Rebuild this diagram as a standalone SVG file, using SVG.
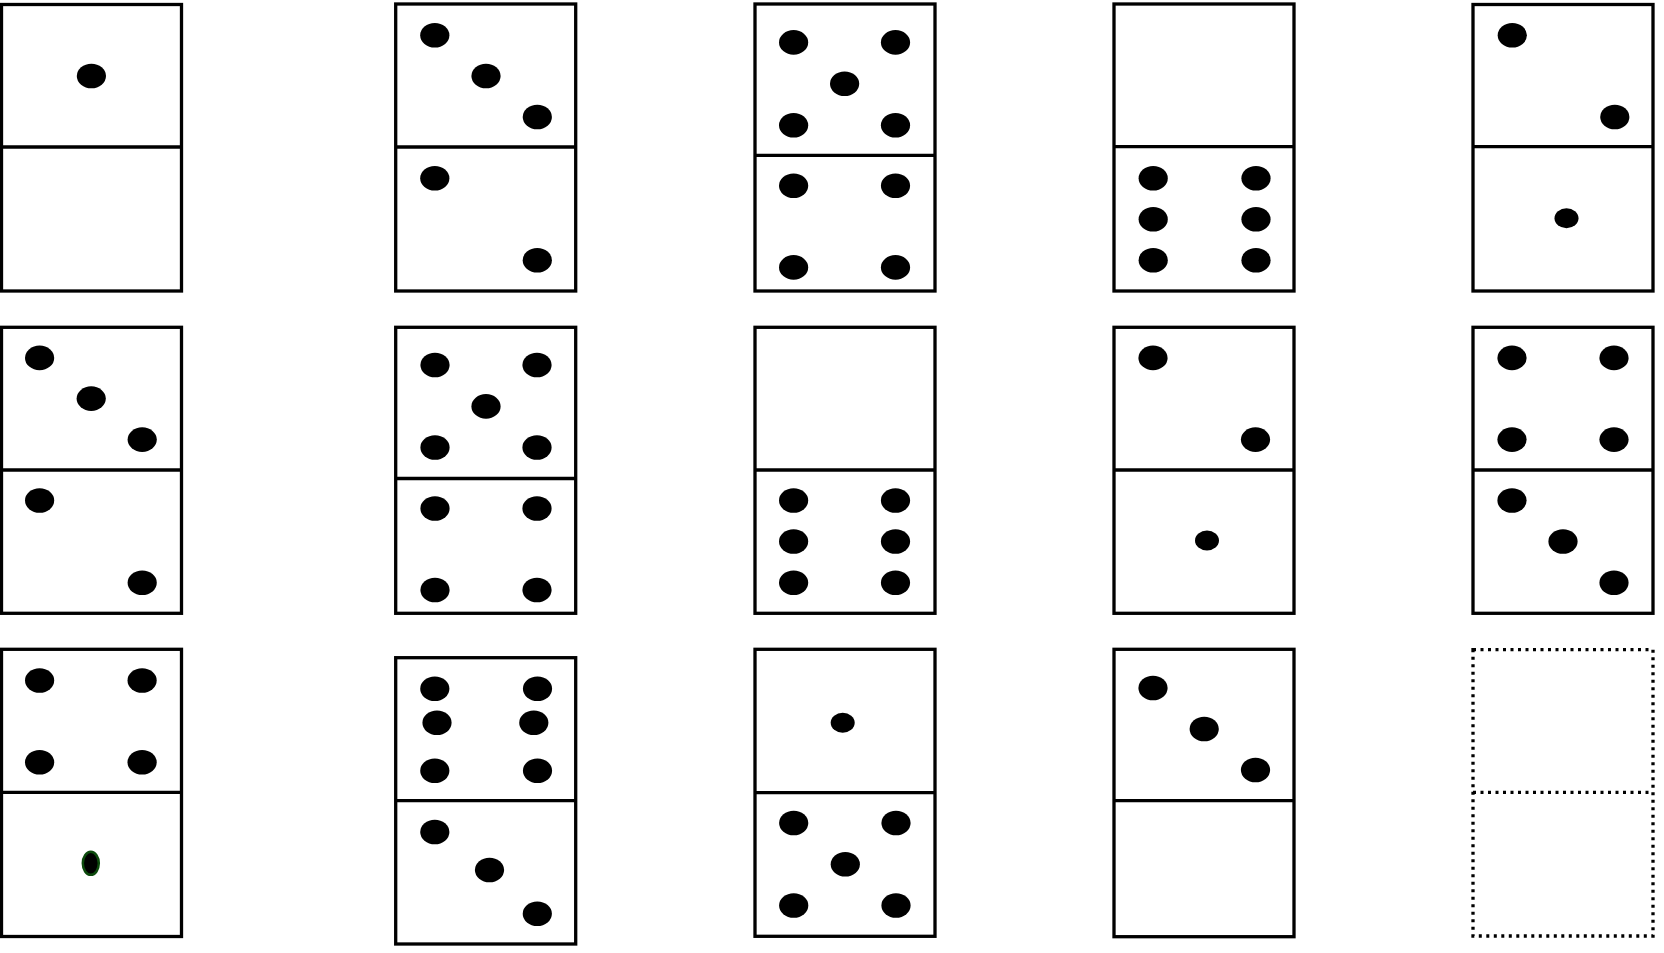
<svg xmlns="http://www.w3.org/2000/svg" width="1664" height="953" viewBox="0 0 1664 953">
<style>
.tile{fill:#fff;stroke:#000;stroke-width:3.3}
.div{stroke:#000;stroke-width:3.3}
.pip{fill:#000}
.dotted{stroke-dasharray:3 4.5}
.green{fill:#000;stroke:#0d4a0d;stroke-width:2.5}
</style>
<rect x="0" y="0" width="1664" height="953" fill="#fff"/>
<g id="domino-r1c1">
<rect class="tile" x="1.5" y="4.5" width="180" height="286.5"/>
<line class="div" x1="1.5" y1="147" x2="181.5" y2="147"/>
<ellipse class="pip" cx="91.4" cy="76" rx="14.6" ry="12.3"/>
</g>
<g id="domino-r1c2">
<rect class="tile" x="395.7" y="4" width="180" height="287"/>
<line class="div" x1="395.7" y1="147" x2="575.7" y2="147"/>
<ellipse class="pip" cx="434.8" cy="35.3" rx="14.6" ry="12.3"/>
<ellipse class="pip" cx="486" cy="76" rx="14.6" ry="12.3"/>
<ellipse class="pip" cx="537.3" cy="117" rx="14.6" ry="12.3"/>
<ellipse class="pip" cx="434.8" cy="178.3" rx="14.6" ry="12.3"/>
<ellipse class="pip" cx="537.3" cy="260.3" rx="14.6" ry="12.3"/>
</g>
<g id="domino-r1c3">
<rect class="tile" x="755" y="4" width="180" height="287"/>
<line class="div" x1="755" y1="155.3" x2="935" y2="155.3"/>
<ellipse class="pip" cx="793.6" cy="42.4" rx="14.6" ry="12.3"/>
<ellipse class="pip" cx="895.5" cy="42.4" rx="14.6" ry="12.3"/>
<ellipse class="pip" cx="844.6" cy="83.8" rx="14.6" ry="12.3"/>
<ellipse class="pip" cx="793.6" cy="125.2" rx="14.6" ry="12.3"/>
<ellipse class="pip" cx="895.5" cy="125.2" rx="14.6" ry="12.3"/>
<ellipse class="pip" cx="793.6" cy="185.7" rx="14.6" ry="12.3"/>
<ellipse class="pip" cx="895.5" cy="185.7" rx="14.6" ry="12.3"/>
<ellipse class="pip" cx="793.6" cy="267.4" rx="14.6" ry="12.3"/>
<ellipse class="pip" cx="895.5" cy="267.4" rx="14.6" ry="12.3"/>
</g>
<g id="domino-r1c4">
<rect class="tile" x="1114" y="4" width="180" height="287"/>
<line class="div" x1="1114" y1="146.7" x2="1294" y2="146.7"/>
<ellipse class="pip" cx="1153.2" cy="178.3" rx="14.6" ry="12.3"/>
<ellipse class="pip" cx="1256" cy="178.3" rx="14.6" ry="12.3"/>
<ellipse class="pip" cx="1153.2" cy="219.3" rx="14.6" ry="12.3"/>
<ellipse class="pip" cx="1256" cy="219.3" rx="14.6" ry="12.3"/>
<ellipse class="pip" cx="1153.2" cy="260.3" rx="14.6" ry="12.3"/>
<ellipse class="pip" cx="1256" cy="260.3" rx="14.6" ry="12.3"/>
</g>
<g id="domino-r1c5">
<rect class="tile" x="1473" y="4.5" width="180" height="286.5"/>
<line class="div" x1="1473" y1="146.7" x2="1653" y2="146.7"/>
<ellipse class="pip" cx="1512.3" cy="35.3" rx="14.6" ry="12.3"/>
<ellipse class="pip" cx="1614.8" cy="117" rx="14.6" ry="12.3"/>
<ellipse class="pip" cx="1566.5" cy="218.3" rx="12" ry="10"/>
</g>
<g id="domino-r2c1">
<rect class="tile" x="1.5" y="327.3" width="180" height="286"/>
<line class="div" x1="1.5" y1="470" x2="181.5" y2="470"/>
<ellipse class="pip" cx="39.6" cy="357.9" rx="14.6" ry="12.3"/>
<ellipse class="pip" cx="91.2" cy="398.6" rx="14.6" ry="12.3"/>
<ellipse class="pip" cx="142.2" cy="439.6" rx="14.6" ry="12.3"/>
<ellipse class="pip" cx="39.6" cy="500.5" rx="14.6" ry="12.3"/>
<ellipse class="pip" cx="142.2" cy="582.7" rx="14.6" ry="12.3"/>
</g>
<g id="domino-r2c2">
<rect class="tile" x="395.7" y="327.3" width="180" height="286"/>
<line class="div" x1="395.7" y1="478.5" x2="575.7" y2="478.5"/>
<ellipse class="pip" cx="435" cy="365" rx="14.6" ry="12.3"/>
<ellipse class="pip" cx="537" cy="365" rx="14.6" ry="12.3"/>
<ellipse class="pip" cx="486" cy="406.4" rx="14.6" ry="12.3"/>
<ellipse class="pip" cx="435" cy="447.5" rx="14.6" ry="12.3"/>
<ellipse class="pip" cx="537" cy="447.5" rx="14.6" ry="12.3"/>
<ellipse class="pip" cx="435" cy="508.5" rx="14.6" ry="12.3"/>
<ellipse class="pip" cx="537" cy="508.5" rx="14.6" ry="12.3"/>
<ellipse class="pip" cx="435" cy="590" rx="14.6" ry="12.3"/>
<ellipse class="pip" cx="537" cy="590" rx="14.6" ry="12.3"/>
</g>
<g id="domino-r2c3">
<rect class="tile" x="755" y="327.3" width="180" height="286"/>
<line class="div" x1="755" y1="470" x2="935" y2="470"/>
<ellipse class="pip" cx="793.6" cy="500.5" rx="14.6" ry="12.3"/>
<ellipse class="pip" cx="895.5" cy="500.5" rx="14.6" ry="12.3"/>
<ellipse class="pip" cx="793.6" cy="541.5" rx="14.6" ry="12.3"/>
<ellipse class="pip" cx="895.5" cy="541.5" rx="14.6" ry="12.3"/>
<ellipse class="pip" cx="793.6" cy="582.7" rx="14.6" ry="12.3"/>
<ellipse class="pip" cx="895.5" cy="582.7" rx="14.6" ry="12.3"/>
</g>
<g id="domino-r2c4">
<rect class="tile" x="1114" y="327.3" width="180" height="286"/>
<line class="div" x1="1114" y1="470" x2="1294" y2="470"/>
<ellipse class="pip" cx="1153" cy="357.9" rx="14.6" ry="12.3"/>
<ellipse class="pip" cx="1255.5" cy="439.6" rx="14.6" ry="12.3"/>
<ellipse class="pip" cx="1207" cy="540.5" rx="12" ry="10"/>
</g>
<g id="domino-r2c5">
<rect class="tile" x="1473" y="327.3" width="180" height="286"/>
<line class="div" x1="1473" y1="470" x2="1653" y2="470"/>
<ellipse class="pip" cx="1512" cy="357.9" rx="14.6" ry="12.3"/>
<ellipse class="pip" cx="1614" cy="357.9" rx="14.6" ry="12.3"/>
<ellipse class="pip" cx="1512" cy="439.6" rx="14.6" ry="12.3"/>
<ellipse class="pip" cx="1614" cy="439.6" rx="14.6" ry="12.3"/>
<ellipse class="pip" cx="1512" cy="500.5" rx="14.6" ry="12.3"/>
<ellipse class="pip" cx="1563" cy="541.5" rx="14.6" ry="12.3"/>
<ellipse class="pip" cx="1614" cy="582.7" rx="14.6" ry="12.3"/>
</g>
<g id="domino-r3c1">
<rect class="tile" x="1.5" y="649.3" width="180" height="287.2"/>
<line class="div" x1="1.5" y1="792.3" x2="181.5" y2="792.3"/>
<ellipse class="pip" cx="39.6" cy="680.5" rx="14.6" ry="12.3"/>
<ellipse class="pip" cx="142.1" cy="680.5" rx="14.6" ry="12.3"/>
<ellipse class="pip" cx="39.6" cy="762.2" rx="14.6" ry="12.3"/>
<ellipse class="pip" cx="142.1" cy="762.2" rx="14.6" ry="12.3"/>
<ellipse class="green" cx="90.8" cy="863.3" rx="8" ry="11.5"/>
</g>
<g id="domino-r3c2">
<rect class="tile" x="395.7" y="657.7" width="180" height="286.3"/>
<line class="div" x1="395.7" y1="800.7" x2="575.7" y2="800.7"/>
<ellipse class="pip" cx="434.8" cy="688.7" rx="14.6" ry="12.3"/>
<ellipse class="pip" cx="537.5" cy="688.7" rx="14.6" ry="12.3"/>
<ellipse class="pip" cx="437" cy="722.7" rx="14.6" ry="12.3"/>
<ellipse class="pip" cx="533.8" cy="722.7" rx="14.6" ry="12.3"/>
<ellipse class="pip" cx="434.8" cy="770.8" rx="14.6" ry="12.3"/>
<ellipse class="pip" cx="537.5" cy="770.8" rx="14.6" ry="12.3"/>
<ellipse class="pip" cx="434.8" cy="832" rx="14.6" ry="12.3"/>
<ellipse class="pip" cx="489.5" cy="870" rx="14.6" ry="12.3"/>
<ellipse class="pip" cx="537.3" cy="913.7" rx="14.6" ry="12.3"/>
</g>
<g id="domino-r3c3">
<rect class="tile" x="755" y="649.3" width="180" height="287"/>
<line class="div" x1="755" y1="792.6" x2="935" y2="792.6"/>
<ellipse class="pip" cx="842.7" cy="722.7" rx="12" ry="10"/>
<ellipse class="pip" cx="793.7" cy="823" rx="14.6" ry="12.3"/>
<ellipse class="pip" cx="896" cy="823" rx="14.6" ry="12.3"/>
<ellipse class="pip" cx="845.3" cy="864.3" rx="14.6" ry="12.3"/>
<ellipse class="pip" cx="793.7" cy="905.5" rx="14.6" ry="12.3"/>
<ellipse class="pip" cx="896" cy="905.5" rx="14.6" ry="12.3"/>
</g>
<g id="domino-r3c4">
<rect class="tile" x="1114" y="649.3" width="180" height="287.4"/>
<line class="div" x1="1114" y1="800.7" x2="1294" y2="800.7"/>
<ellipse class="pip" cx="1153" cy="688" rx="14.6" ry="12.3"/>
<ellipse class="pip" cx="1204.2" cy="729" rx="14.6" ry="12.3"/>
<ellipse class="pip" cx="1255.5" cy="770" rx="14.6" ry="12.3"/>
</g>
<g id="domino-r3c5">
<rect class="tile dotted" x="1473" y="649.7" width="180" height="286.3"/>
<line class="div dotted" x1="1473" y1="792.3" x2="1653" y2="792.3"/>
</g>
</svg>
